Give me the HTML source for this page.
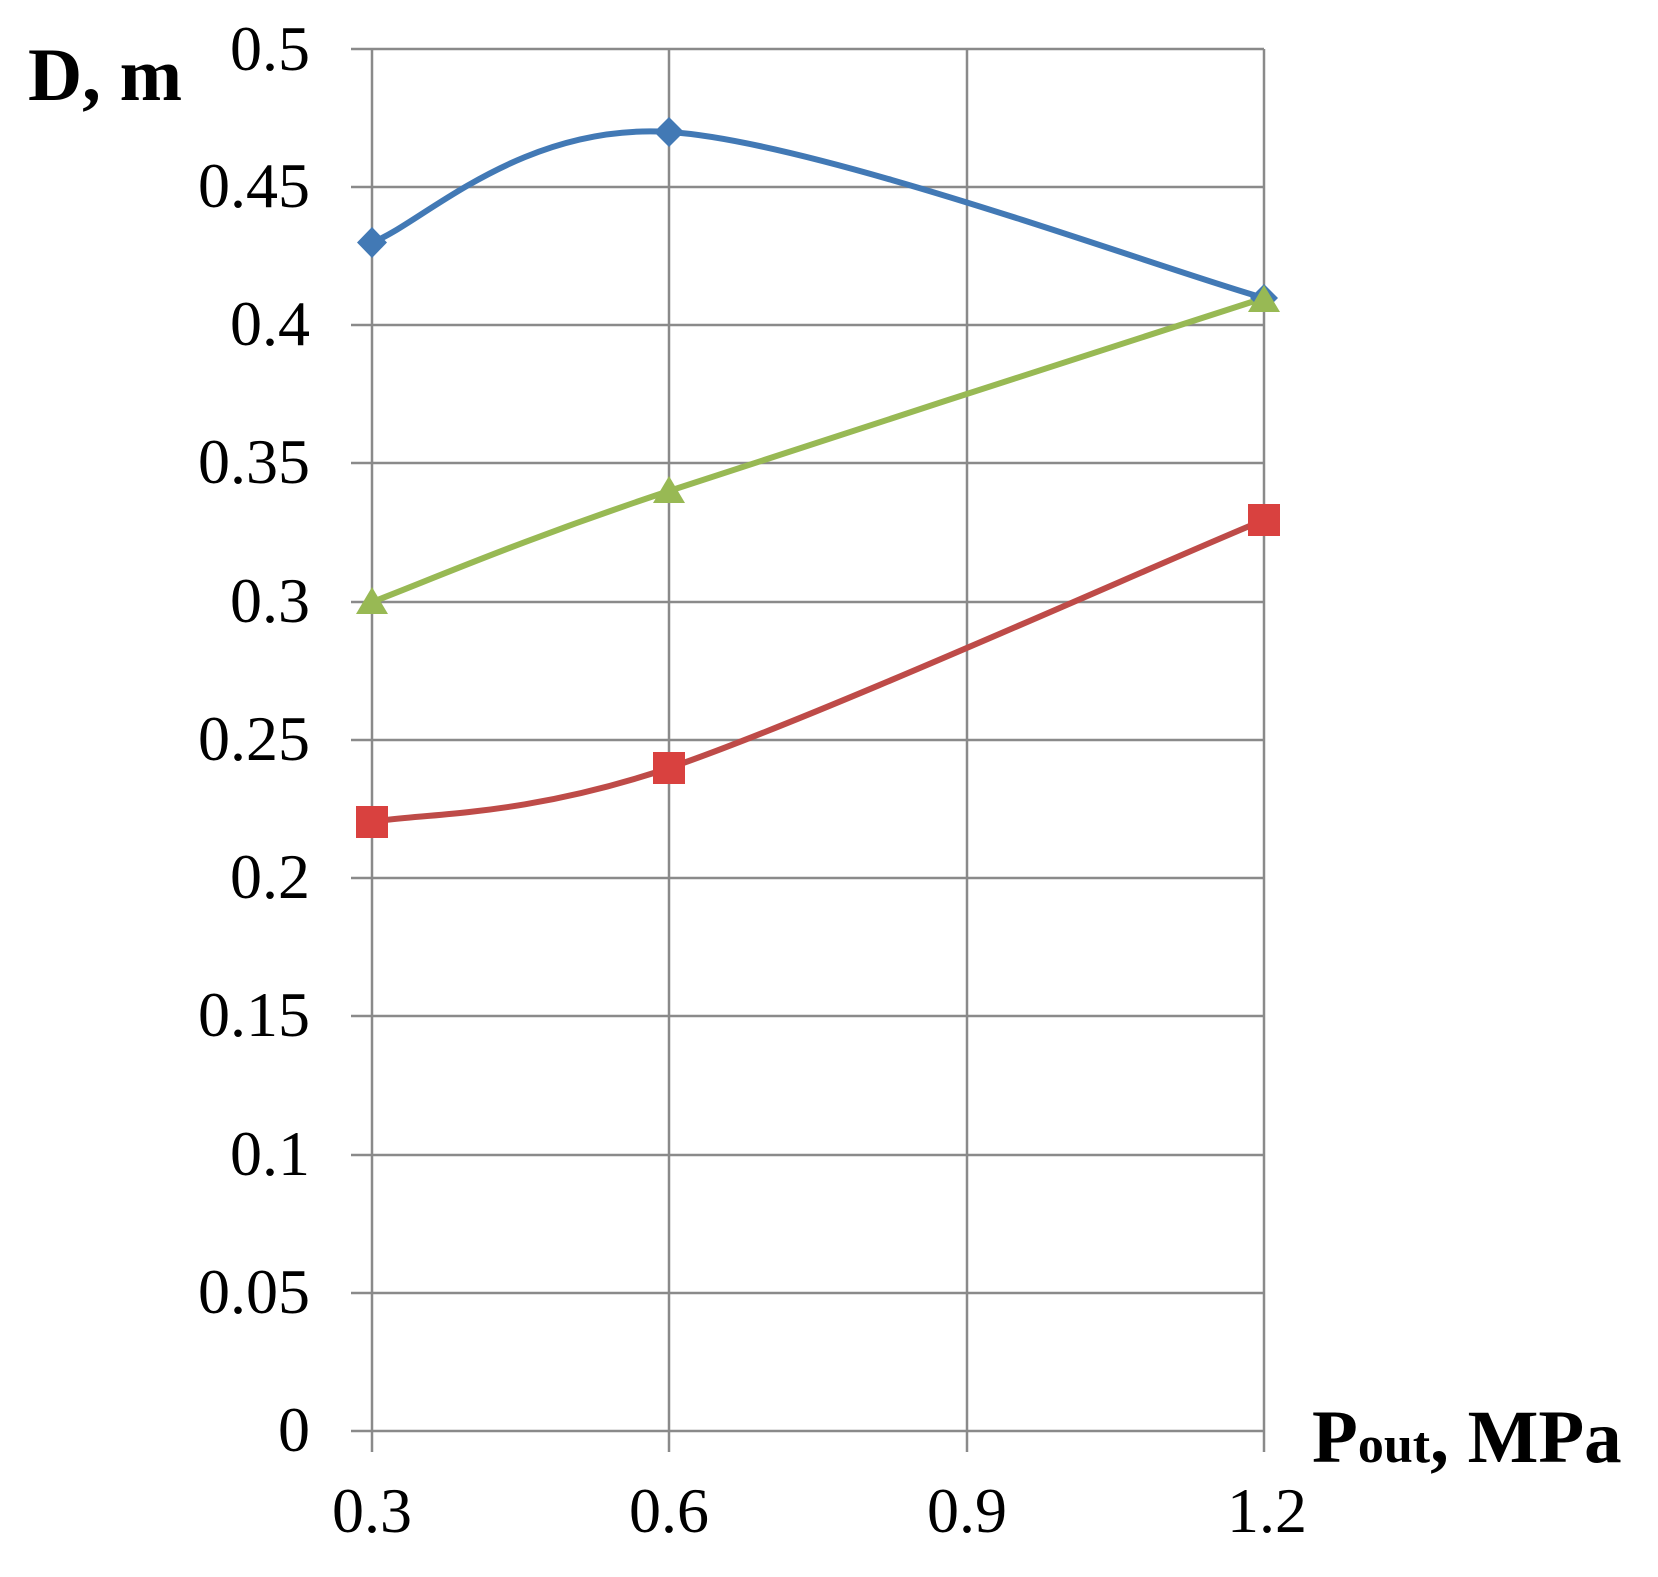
<!DOCTYPE html>
<html><head><meta charset="utf-8"><style>
html,body{margin:0;padding:0;background:#fff;}
svg{display:block;}
text{font-family:"Liberation Serif",serif;fill:#000;}
</style></head><body>
<svg width="1658" height="1577" viewBox="0 0 1658 1577" xmlns="http://www.w3.org/2000/svg">
<g stroke="#8a8a8a" stroke-width="2.5" fill="none">
<line x1="351" y1="49" x2="1264" y2="49"/>
<line x1="351" y1="187" x2="1264" y2="187"/>
<line x1="351" y1="325" x2="1264" y2="325"/>
<line x1="351" y1="463" x2="1264" y2="463"/>
<line x1="351" y1="602" x2="1264" y2="602"/>
<line x1="351" y1="740" x2="1264" y2="740"/>
<line x1="351" y1="878" x2="1264" y2="878"/>
<line x1="351" y1="1016" x2="1264" y2="1016"/>
<line x1="351" y1="1155" x2="1264" y2="1155"/>
<line x1="351" y1="1293" x2="1264" y2="1293"/>
<line x1="351" y1="1431" x2="1264" y2="1431"/>
<line x1="372" y1="49" x2="372" y2="1452"/>
<line x1="669" y1="49" x2="669" y2="1452"/>
<line x1="967" y1="49" x2="967" y2="1452"/>
<line x1="1264" y1="49" x2="1264" y2="1452"/>
</g>
<g font-size="64" text-anchor="end">
<text x="310" y="70">0.5</text>
<text x="310" y="207">0.45</text>
<text x="310" y="345">0.4</text>
<text x="310" y="483">0.35</text>
<text x="310" y="622">0.3</text>
<text x="310" y="760">0.25</text>
<text x="310" y="898">0.2</text>
<text x="310" y="1036">0.15</text>
<text x="310" y="1175">0.1</text>
<text x="310" y="1313">0.05</text>
<text x="310" y="1451">0</text>
</g>
<g font-size="64" text-anchor="middle">
<text x="372" y="1532">0.3</text>
<text x="669" y="1532">0.6</text>
<text x="967" y="1532">0.9</text>
<text x="1267" y="1532">1.2</text>
</g>
<text x="28" y="100" font-size="75" font-weight="bold">D, m</text>
<text x="1312" y="1462" font-size="75" font-weight="bold">P<tspan font-size="52">out</tspan>, MPa</text>
<g fill="none" stroke-width="6" stroke-linecap="round">
<path d="M372,242.5 C421.5,224 520,122.8 669,132 C817.7,141.3 1164.8,270.3 1264,298" stroke="#4279b5"/>
<path d="M372,602 C421.5,583.5 520.3,540.3 669,491 C817.7,441.7 1164.8,330.2 1264,298" stroke="#98b954"/>
<path d="M372,822 C421.5,813 520.3,818 669,768 C817.7,717.3 1164.8,560.5 1264,520" stroke="#be4b48"/>
</g>
<polygon points="372,227 387,242.5 372,258 357,242.5" fill="#4279b5"/>
<polygon points="669,117 684,132 669,147 654,132" fill="#4279b5"/>
<polygon points="1264,284 1278,298 1264,312 1250,298" fill="#4279b5"/>
<polygon points="372,587 388,614 356,614" fill="#98b954"/>
<polygon points="669,476 685,503 653,503" fill="#98b954"/>
<polygon points="1264,285 1280,312 1248,312" fill="#98b954"/>
<rect x="356" y="806" width="32" height="32" fill="#d9413f"/>
<rect x="653" y="752" width="32" height="32" fill="#d9413f"/>
<rect x="1248" y="504" width="32" height="32" fill="#d9413f"/>
</svg>
</body></html>
